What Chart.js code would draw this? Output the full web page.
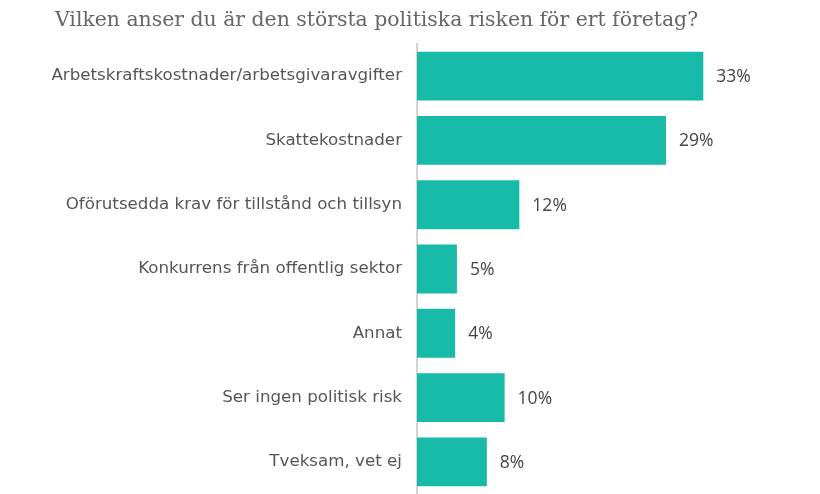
<!DOCTYPE html>
<html>
<head>
<meta charset="utf-8">
<script src="https://cdn.jsdelivr.net/npm/chart.js@4"></script>
<style>
  body { margin: 0; background: #fff; }
  #wrap { position: relative; width: 820px; height: 494px; }
  #title {
    position: absolute; left: 55px; top: 7px;
    font-family: "DejaVu Serif", serif;
    font-size: 20.4px; color: #666; white-space: nowrap;
  }
  canvas { display: block; }
</style>
</head>
<body>
<div id="wrap">
  <div id="title">Vilken anser du är den största politiska risken för ert företag?</div>
  <canvas id="riskChart" width="820" height="494"></canvas>
</div>
<script>
const categories = [
  'Arbetskraftskostnader/arbetsgivaravgifter',
  'Skattekostnader',
  'Oförutsedda krav för tillstånd och tillsyn',
  'Konkurrens från offentlig sektor',
  'Annat',
  'Ser ingen politisk risk',
  'Tveksam, vet ej'
];
const shares = [33, 28.7, 11.8, 4.6, 4.4, 10.1, 8.05];

const barColor = '#16BAA6';

// prints the rounded share to the right of each bar
const valueLabels = {
  id: 'valueLabels',
  afterDatasetsDraw(chart) {
    const ctx = chart.ctx;
    const meta = chart.getDatasetMeta(0);
    ctx.save();
    ctx.font = '17.5px "Open Sans", sans-serif';
    ctx.fillStyle = '#444';
    ctx.textAlign = 'left';
    ctx.textBaseline = 'middle';
    meta.data.forEach((bar, i) => {
      ctx.fillText(Math.round(shares[i]) + '%', bar.x + 13, bar.y + 1);
    });
    ctx.restore();
  }
};

const chart = new Chart(document.getElementById('riskChart').getContext('2d'), {
  type: 'bar',
  data: {
    labels: categories,
    datasets: [{
      data: shares,
      backgroundColor: barColor,
      categoryPercentage: 1,
      barPercentage: 0.76
    }]
  },
  options: {
    indexAxis: 'y',
    responsive: false,
    animation: false,
    layout: { padding: { top: 44, right: 56, bottom: 0, left: 0 } },
    plugins: {
      legend: { display: false },
      tooltip: { enabled: false }
    },
    scales: {
      x: { display: false, min: 0, max: 40 },
      y: {
        afterFit(scale) {
          scale.width = 417;
          scale.paddingTop = 0;
          scale.paddingBottom = 0;
        },
        grid: { display: false, drawTicks: false },
        border: { display: true, color: '#d4d4d4', width: 2 },
        ticks: {
          padding: 15,
          color: '#555',
          font: { family: '"DejaVu Sans", sans-serif', size: 16.7 }
        }
      }
    }
  },
  plugins: [valueLabels]
});
</script>
</body>
</html>
